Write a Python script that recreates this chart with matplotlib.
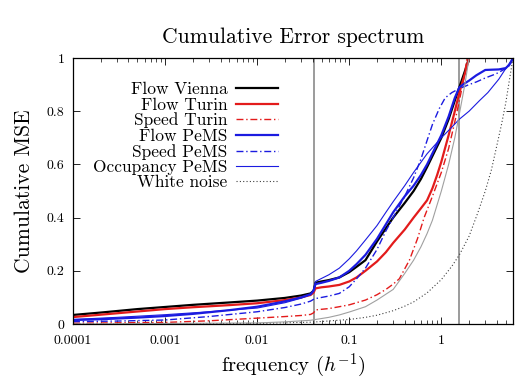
import numpy as np
import matplotlib
matplotlib.use("Agg")
import matplotlib.pyplot as plt

plt.rcParams['font.family'] = 'serif'
plt.rcParams['font.serif'] = ['cmr10', 'DejaVu Serif']
plt.rcParams['mathtext.fontset'] = 'cm'
plt.rcParams['axes.formatter.use_mathtext'] = True

# datos (frecuencia en h^-1, MSE acumulado)
f_vienna = [1e-4, 2e-4, 5e-4, 1e-3, 2e-3, 5e-3, 1e-2, 0.02, 0.03, 0.038, 0.041, 0.043, 0.05, 0.06, 0.078,
            0.1, 0.12, 0.15, 0.2, 0.25, 0.3, 0.4, 0.5, 0.6, 0.7, 0.85, 1.0, 1.2, 1.4, 1.57, 1.8, 2.0]
y_vienna = [0.034, 0.043, 0.056, 0.064, 0.072, 0.081, 0.088, 0.098, 0.107, 0.115, 0.125, 0.155, 0.160, 0.165, 0.175,
            0.195, 0.215, 0.24, 0.31, 0.36, 0.40, 0.455, 0.50, 0.545, 0.59, 0.65, 0.70, 0.77, 0.84, 0.89, 0.95, 1.0]

f_turin = [1e-4, 2e-4, 5e-4, 1e-3, 2e-3, 5e-3, 1e-2, 0.02, 0.03, 0.038, 0.041, 0.043, 0.05, 0.06, 0.078,
           0.1, 0.12, 0.15, 0.2, 0.25, 0.3, 0.4, 0.5, 0.6, 0.7, 0.8, 0.9, 1.0, 1.2, 1.4, 1.57, 1.8, 2.0]
y_turin = [0.026, 0.035, 0.047, 0.056, 0.063, 0.071, 0.078, 0.090, 0.100, 0.109, 0.118, 0.134, 0.138, 0.141, 0.147,
           0.160, 0.175, 0.20, 0.235, 0.27, 0.305, 0.355, 0.40, 0.435, 0.465, 0.51, 0.56, 0.61, 0.71, 0.80, 0.87, 0.94, 1.0]

f_speed_turin = [1e-4, 1e-3, 3e-3, 1e-2, 0.02, 0.03, 0.038, 0.041, 0.043, 0.06, 0.078, 0.1, 0.15, 0.2, 0.25,
                 0.3, 0.35, 0.45, 0.55, 0.65, 0.8, 1.0, 1.2, 1.4, 1.57, 1.75, 1.9]
y_speed_turin = [0.003, 0.006, 0.012, 0.022, 0.028, 0.032, 0.036, 0.042, 0.053, 0.058, 0.065, 0.072, 0.09, 0.11, 0.13,
                 0.15, 0.17, 0.24, 0.32, 0.40, 0.48, 0.57, 0.66, 0.76, 0.84, 0.92, 1.0]

f_pems = [1e-4, 2e-4, 5e-4, 1e-3, 2e-3, 5e-3, 1e-2, 0.02, 0.03, 0.038, 0.041, 0.043, 0.05, 0.06, 0.078,
          0.1, 0.12, 0.15, 0.2, 0.25, 0.3, 0.4, 0.5, 0.6, 0.7, 0.85, 1.0, 1.2, 1.4, 1.57, 1.8, 2.0, 2.4,
          3.0, 3.5, 4.2, 5.0, 5.5, 6.0]
y_pems = [0.015, 0.018, 0.024, 0.030, 0.038, 0.052, 0.065, 0.085, 0.100, 0.112, 0.125, 0.150, 0.155, 0.162, 0.175,
          0.20, 0.225, 0.26, 0.32, 0.375, 0.42, 0.48, 0.52, 0.56, 0.60, 0.66, 0.71, 0.78, 0.85, 0.89, 0.905, 0.915, 0.935,
          0.955, 0.956, 0.957, 0.962, 0.975, 1.0]

f_speed_pems = [1e-4, 3e-4, 1e-3, 3e-3, 1e-2, 0.02, 0.03, 0.038, 0.042, 0.06, 0.078, 0.1, 0.12, 0.15, 0.2,
                0.25, 0.3, 0.4, 0.5, 0.6, 0.7, 0.8, 0.95, 1.1, 1.3, 1.57, 2.0, 2.4, 3.0, 3.9, 5.0, 5.6, 6.0]
y_speed_pems = [0.009, 0.011, 0.015, 0.028, 0.046, 0.062, 0.075, 0.086, 0.095, 0.105, 0.115, 0.14, 0.17, 0.21, 0.28,
                0.35, 0.40, 0.48, 0.55, 0.62, 0.69, 0.75, 0.81, 0.85, 0.87, 0.885, 0.90, 0.91, 0.925, 0.94, 0.96, 0.975, 1.0]

f_occ_pems = [1e-4, 3e-4, 1e-3, 3e-3, 1e-2, 0.02, 0.03, 0.038, 0.041, 0.043, 0.06, 0.078, 0.1, 0.12, 0.15,
              0.2, 0.25, 0.3, 0.4, 0.5, 0.7, 1.0, 1.3, 1.57, 2.0, 2.6, 3.2, 4.2, 5.0, 6.0]
y_occ_pems = [0.017, 0.025, 0.035, 0.046, 0.060, 0.080, 0.097, 0.110, 0.13, 0.16, 0.185, 0.21, 0.245, 0.275, 0.316,
              0.37, 0.42, 0.46, 0.52, 0.57, 0.64, 0.70, 0.74, 0.77, 0.80, 0.84, 0.87, 0.92, 0.96, 1.0]

f_noise = [1e-4, 0.01, 0.04, 0.1, 0.15, 0.2, 0.3, 0.4, 0.5, 0.7, 1.0, 1.3, 1.57, 2.0, 2.5, 3.0, 3.5,
           4.0, 4.5, 5.0, 5.5, 6.0]
y_noise = [0.0, 0.002, 0.007, 0.017, 0.025, 0.033, 0.05, 0.067, 0.083, 0.117, 0.167, 0.217, 0.26, 0.33, 0.42, 0.50, 0.58,
           0.67, 0.75, 0.83, 0.92, 1.0]

f_noise2 = [1e-4, 0.01, 0.02, 0.038, 0.06, 0.078, 0.1, 0.15, 0.2, 0.3, 0.4, 0.5, 0.6, 0.7, 0.8, 1.0,
            1.2, 1.4, 1.57, 1.8, 2.0]
y_noise2 = [0.0, 0.004, 0.008, 0.014, 0.025, 0.034, 0.045, 0.065, 0.09, 0.13, 0.19, 0.24, 0.29, 0.34, 0.39, 0.50,
            0.60, 0.70, 0.79, 0.90, 1.0]

f_cortes = [1/24, 1.57]  # lineas verticales

xticks = [1e-4, 1e-3, 1e-2, 0.1, 1]
xlabels = ['0.0001', '0.001', '0.01', '0.1', '1']
yticks = [0, 0.2, 0.4, 0.6, 0.8, 1]
ylabels = ['0', '0.2', '0.4', '0.6', '0.8', '1']

rojo = '#e31b1b'
azul = '#1b1be0'

fig = plt.figure(figsize=(5.22, 3.79), dpi=100)
ax = fig.add_axes([73/522, 1-324/379, 440/522, 266/379])

for fc in f_cortes:
    ax.axvline(fc, color='#808080', lw=1.1, zorder=1)

ax.plot(f_vienna, y_vienna, color='black', lw=1.6, label='Flow Vienna')
ax.plot(f_turin, y_turin, color=rojo, lw=1.6, label='Flow Turin')
ax.plot(f_speed_turin, y_speed_turin, color=rojo, lw=1.0, dashes=(5, 2, 1, 2), label='Speed Turin')
ax.plot(f_pems, y_pems, color=azul, lw=1.6, label='Flow PeMS')
ax.plot(f_speed_pems, y_speed_pems, color=azul, lw=1.0, dashes=(5, 2, 1, 2), label='Speed PeMS')
ax.plot(f_occ_pems, y_occ_pems, color=azul, lw=0.8, label='Occupancy PeMS')
ax.plot(f_noise, y_noise, color='#404040', lw=0.8, ls=(0, (1, 2)), label='White noise')
ax.plot(f_noise2, y_noise2, color='#a0a0a0', lw=0.8)

ax.set_xscale('log')
ax.set_xlim(1e-4, 6)
ax.set_ylim(0, 1)
ax.set_xticks(xticks)
ax.set_xticklabels(xlabels, fontsize=10)
ax.set_yticks(yticks)
ax.set_yticklabels(ylabels, fontsize=10)
ax.tick_params(which='both', direction='in', top=True, right=True)
ax.tick_params(which='major', length=5, width=0.6)
ax.tick_params(axis='x', which='major', pad=8)
ax.tick_params(axis='y', which='major', pad=6)
ax.tick_params(which='minor', length=3, width=0.5)
for s in ax.spines.values():
    s.set_linewidth(0.9)

ax.set_title('Cumulative Error spectrum', fontsize=15.5, pad=11)
ax.set_xlabel('frequency ($h^{-1}$)', fontsize=15, labelpad=3)
ax.set_ylabel('Cumulative MSE', fontsize=15.5, labelpad=9)

ax.legend(loc='upper right', bbox_to_anchor=(278/522, 1-82/379), bbox_transform=fig.transFigure,
          frameon=False, markerfirst=False, fontsize=12.5, labelspacing=0.0, handlelength=2.4,
          handletextpad=0.5, borderpad=0, borderaxespad=0)

fig.savefig('out.png', dpi=100)
